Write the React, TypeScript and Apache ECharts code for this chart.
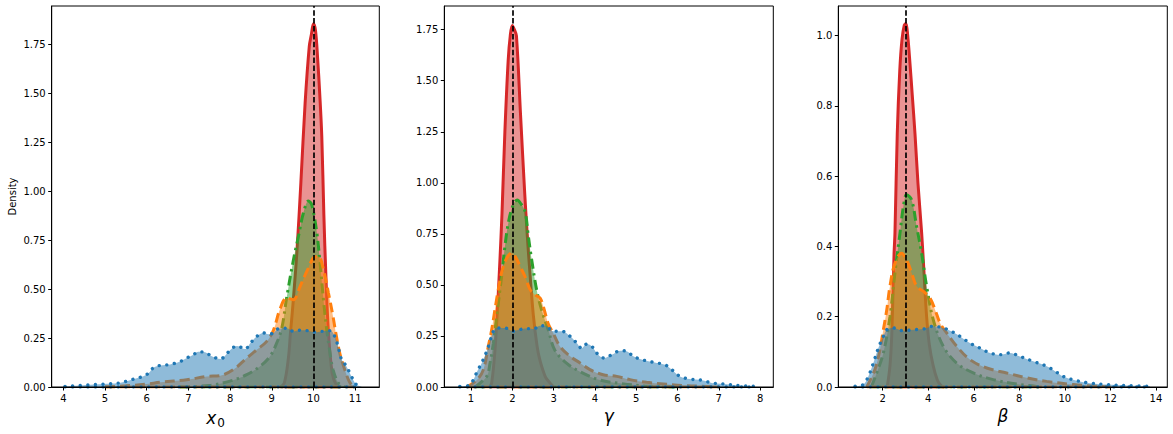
import React, { useEffect, useRef } from "react";
import * as echarts from "echarts";

const BLUE = "#1f77b4";
const ORANGE = "#ff7f0e";
const GREEN = "#2ca02c";
const RED = "#d62728";

// ---------- Panel 1: x0 ----------
const x0Red: number[][] = [[9.2,0],[9.3,0.02],[9.4,0.15],[9.45,0.28],[9.5,0.4],[9.6,0.68],[9.7,1.05],[9.8,1.45],[9.9,1.74],[9.95,1.8],[10.0,1.855],[10.05,1.82],[10.1,1.68],[10.15,1.5],[10.2,1.28],[10.25,0.88],[10.3,0.56],[10.36,0.28],[10.45,0.07],[10.55,0.01],[10.65,0]];
const x0Green: number[][] = [[6.8,0],[7.5,0.008],[8.0,0.03],[8.4,0.063],[8.72,0.106],[8.96,0.157],[9.12,0.225],[9.24,0.3],[9.36,0.46],[9.52,0.65],[9.64,0.77],[9.76,0.89],[9.88,0.95],[9.96,0.93],[10.08,0.79],[10.16,0.63],[10.24,0.446],[10.32,0.29],[10.4,0.17],[10.47,0.089],[10.6,0.02],[10.75,0]];
const x0Orange: number[][] = [[5.0,0],[5.5,0.006],[6.0,0.015],[6.32,0.024],[6.96,0.037],[7.44,0.054],[7.76,0.058],[8.08,0.089],[8.4,0.148],[8.64,0.19],[8.88,0.233],[9.04,0.29],[9.2,0.4],[9.36,0.455],[9.52,0.446],[9.68,0.514],[9.84,0.59],[10.0,0.66],[10.12,0.667],[10.24,0.6],[10.36,0.48],[10.47,0.36],[10.55,0.26],[10.63,0.174],[10.75,0.089],[10.87,0.024],[10.97,0]];
const x0Blue: number[][] = [[4.04,0.003],[4.56,0.01],[4.96,0.015],[5.32,0.02],[5.52,0.03],[5.68,0.04],[5.92,0.055],[6.04,0.07],[6.17,0.1],[6.32,0.11],[6.56,0.115],[6.8,0.13],[6.96,0.148],[7.12,0.165],[7.24,0.18],[7.4,0.177],[7.56,0.157],[7.77,0.143],[7.85,0.153],[8.01,0.19],[8.17,0.21],[8.36,0.194],[8.49,0.225],[8.65,0.26],[8.8,0.276],[8.92,0.27],[9.04,0.276],[9.16,0.298],[9.36,0.3],[9.52,0.284],[9.68,0.29],[9.84,0.288],[10.04,0.28],[10.2,0.284],[10.4,0.288],[10.51,0.259],[10.59,0.208],[10.67,0.143],[10.79,0.106],[10.91,0.055],[11.03,0.012],[11.15,0.003]];

// ---------- Panel 2: gamma ----------
const gRed: number[][] = [[1.45,0],[1.5,0.02],[1.58,0.18],[1.65,0.42],[1.7,0.62],[1.75,0.85],[1.82,1.25],[1.9,1.6],[1.95,1.72],[2.0,1.77],[2.05,1.75],[2.1,1.72],[2.2,1.33],[2.3,0.95],[2.36,0.75],[2.43,0.55],[2.51,0.35],[2.6,0.2],[2.67,0.13],[2.8,0.05],[2.91,0.02],[3.0,0]];
const gGreen: number[][] = [[1.1,0],[1.38,0.052],[1.46,0.116],[1.54,0.214],[1.62,0.344],[1.74,0.54],[1.82,0.687],[1.9,0.8],[2.0,0.88],[2.12,0.916],[2.2,0.9],[2.31,0.858],[2.39,0.736],[2.47,0.622],[2.59,0.475],[2.71,0.377],[2.87,0.28],[3.03,0.18],[3.32,0.116],[3.64,0.075],[4.12,0.034],[4.6,0.018],[5.2,0.005],[6.0,0]];
const gOrange: number[][] = [[0.9,0],[1.15,0.036],[1.3,0.085],[1.42,0.2],[1.5,0.28],[1.58,0.38],[1.66,0.477],[1.74,0.56],[1.86,0.63],[1.98,0.656],[2.07,0.64],[2.19,0.59],[2.31,0.54],[2.43,0.477],[2.55,0.452],[2.67,0.436],[2.75,0.395],[2.87,0.31],[2.99,0.264],[3.15,0.2],[3.4,0.15],[3.64,0.118],[3.88,0.085],[4.2,0.06],[4.53,0.052],[4.85,0.036],[5.25,0.023],[5.66,0.015],[6.14,0.007],[6.7,0.003],[7.0,0]];
const gBlue: number[][] = [[0.73,0.003],[0.94,0.007],[1.06,0.036],[1.15,0.077],[1.26,0.118],[1.38,0.175],[1.46,0.224],[1.54,0.273],[1.62,0.289],[1.82,0.289],[2.02,0.273],[2.15,0.28],[2.35,0.286],[2.51,0.284],[2.67,0.3],[2.83,0.297],[2.99,0.273],[3.2,0.273],[3.4,0.248],[3.56,0.215],[3.68,0.19],[3.8,0.21],[3.92,0.2],[4.08,0.158],[4.22,0.142],[4.41,0.158],[4.61,0.178],[4.77,0.175],[4.93,0.15],[5.09,0.137],[5.29,0.126],[5.5,0.118],[5.7,0.109],[5.86,0.085],[6.06,0.052],[6.3,0.039],[6.59,0.033],[6.83,0.02],[7.11,0.015],[7.43,0.008],[7.88,0.003]];

// ---------- Panel 3: beta ----------
const bRed: number[][] = [[2.2,0],[2.32,0.06],[2.4,0.15],[2.5,0.38],[2.54,0.44],[2.64,0.72],[2.75,0.9],[2.85,0.99],[2.95,1.03],[3.02,1.035],[3.1,1.0],[3.2,0.92],[3.3,0.83],[3.42,0.72],[3.55,0.58],[3.71,0.44],[3.82,0.32],[3.93,0.2],[4.05,0.12],[4.22,0.06],[4.4,0.02],[4.55,0.005],[4.7,0]];
const bGreen: number[][] = [[1.5,0],[1.74,0.04],[2.03,0.097],[2.32,0.2],[2.54,0.325],[2.76,0.438],[2.91,0.514],[3.05,0.547],[3.27,0.533],[3.49,0.457],[3.71,0.381],[3.93,0.287],[4.22,0.192],[4.66,0.116],[5.25,0.068],[5.98,0.04],[6.86,0.021],[8.03,0.007],[9.0,0]];
const bOrange: number[][] = [[1.3,0],[1.66,0.05],[1.88,0.106],[2.03,0.163],[2.18,0.22],[2.32,0.287],[2.54,0.353],[2.83,0.381],[3.05,0.362],[3.27,0.325],[3.49,0.287],[3.79,0.272],[4.08,0.253],[4.3,0.22],[4.52,0.182],[4.81,0.154],[5.25,0.116],[5.83,0.078],[6.57,0.054],[7.44,0.04],[8.32,0.026],[9.2,0.016],[10.37,0.007],[11.4,0.002],[12.0,0]];
const bBlue: number[][] = [[0.79,0.002],[1.15,0.007],[1.37,0.03],[1.59,0.068],[1.81,0.111],[2.03,0.144],[2.18,0.163],[2.47,0.168],[2.91,0.16],[3.35,0.163],[3.79,0.165],[4.22,0.173],[4.66,0.168],[5.03,0.158],[5.4,0.144],[5.83,0.125],[6.27,0.111],[6.71,0.097],[7.15,0.092],[7.59,0.097],[8.03,0.087],[8.61,0.073],[9.2,0.059],[9.57,0.045],[9.93,0.03],[10.52,0.018],[11.1,0.011],[11.83,0.007],[12.7,0.004],[13.74,0.002]];

// ---------- ticks ----------
const x0Ticks = [4, 5, 6, 7, 8, 9, 10, 11];
const gTicks = [1, 2, 3, 4, 5, 6, 7, 8];
const bTicks = [2, 4, 6, 8, 10, 12, 14];
const yTicks125 = [0, 0.25, 0.5, 0.75, 1.0, 1.25, 1.5, 1.75];
const yTicks10 = [0, 0.2, 0.4, 0.6, 0.8, 1.0];
const trueValues = [10, 2, 3];

const FONT = "DejaVu Sans";

export default function App() {
  const ref = useRef<HTMLDivElement>(null);
  useEffect(() => {
    document.body.style.margin = "0";
    const chart = echarts.init(ref.current!, null, { renderer: "svg" });

    const panels = [
      { left: 51.7, width: 327.6, xmin: 3.72, xmax: 11.58, ymax: 1.946, xt: x0Ticks, yt: yTicks125, dec: 2, curves: [x0Red, x0Green, x0Orange, x0Blue], name: "{i|x}{s|0}", yname: "Density" },
      { left: 444.3, width: 329, xmin: 0.353, xmax: 8.32, ymax: 1.866, xt: gTicks, yt: yTicks125, dec: 2, curves: [gRed, gGreen, gOrange, gBlue], name: "{i|γ}", yname: "" },
      { left: 838.3, width: 329, xmin: 0.051, xmax: 14.5, ymax: 1.0845, xt: bTicks, yt: yTicks10, dec: 1, curves: [bRed, bGreen, bOrange, bBlue], name: "{i|β}", yname: "" },
    ];
    const colors = [RED, GREEN, ORANGE, BLUE];
    const styles: any[] = [
      { type: "solid", width: 3 },
      { type: [10, 4.5, 2.5, 4.5], width: 3 },
      { type: [10, 5], width: 3 },
      { type: [0.01, 7.6], width: 3.4, cap: "round" },
    ];

    const grid: any[] = [];
    const xAxis: any[] = [];
    const yAxis: any[] = [];
    const series: any[] = [];
    const axisLine = { show: true, lineStyle: { color: "#000", width: 1 } };
    const axisTick = { show: true, inside: false, length: 3.5, lineStyle: { color: "#000", width: 1 } };

    panels.forEach((p, i) => {
      grid.push({ left: p.left, top: 6, width: p.width, height: 381, show: true, borderColor: "#000", borderWidth: 1, backgroundColor: "transparent", z: 20 });
      xAxis.push({
        type: "value", gridIndex: i, min: p.xmin, max: p.xmax, z: 21,
        axisLine, axisTick: { ...axisTick, customValues: p.xt },
        axisLabel: { customValues: p.xt, color: "#000", fontSize: 10, fontFamily: FONT, margin: 6, formatter: (v: number) => String(v) },
        splitLine: { show: false },
        name: p.name, nameLocation: "middle", nameGap: 16,
        nameTextStyle: {
          color: "#000",
          rich: {
            i: { fontFamily: FONT, fontStyle: "italic", fontSize: 17, color: "#000", lineHeight: 22 },
            s: { fontFamily: FONT, fontSize: 12, color: "#000", lineHeight: 22, padding: [9, 0, 0, 1] },
          },
        },
      });
      yAxis.push({
        type: "value", gridIndex: i, min: 0, max: p.ymax, z: 21,
        axisLine, axisTick: { ...axisTick, customValues: p.yt },
        axisLabel: { customValues: p.yt, color: "#000", fontSize: 10, fontFamily: FONT, margin: 6, formatter: (v: number) => v.toFixed(p.dec) },
        splitLine: { show: false },
        name: p.yname, nameLocation: "middle", nameGap: 34, nameRotate: 90,
        nameTextStyle: { color: "#000", fontSize: 10, fontFamily: FONT },
      });
      p.curves.forEach((data, k) => {
        series.push({
          type: "line", xAxisIndex: i, yAxisIndex: i, data, smooth: 0.35, symbol: "none",
          z: 2 + k * 2,
          lineStyle: { color: colors[k], ...styles[k] },
          areaStyle: { color: colors[k], opacity: 0.5 },
          itemStyle: { color: colors[k] },
          clip: true, silent: true,
        });
        series.push({
          type: "line", xAxisIndex: i, yAxisIndex: i, symbol: "none",
          z: 3 + k * 2,
          data: [[data[0][0], 0], [data[data.length - 1][0], 0]],
          lineStyle: { color: colors[k], ...styles[k] },
          itemStyle: { color: colors[k] },
          silent: true,
        });
      });
      series.push({
        type: "line", xAxisIndex: i, yAxisIndex: i, data: [], symbol: "none", silent: true, z: 15,
        markLine: {
          silent: true, symbol: ["none", "none"], label: { show: false }, z: 15,
          lineStyle: { color: "#000", type: [5.5, 2.4], width: 1.7 },
          data: [{ xAxis: trueValues[i] }],
        },
      });
    });

    chart.setOption({ animation: false, backgroundColor: "#fff", grid, xAxis, yAxis, series });
    return () => chart.dispose();
  }, []);
  return <div ref={ref} style={{ width: 1173, height: 434 }} />;
}
